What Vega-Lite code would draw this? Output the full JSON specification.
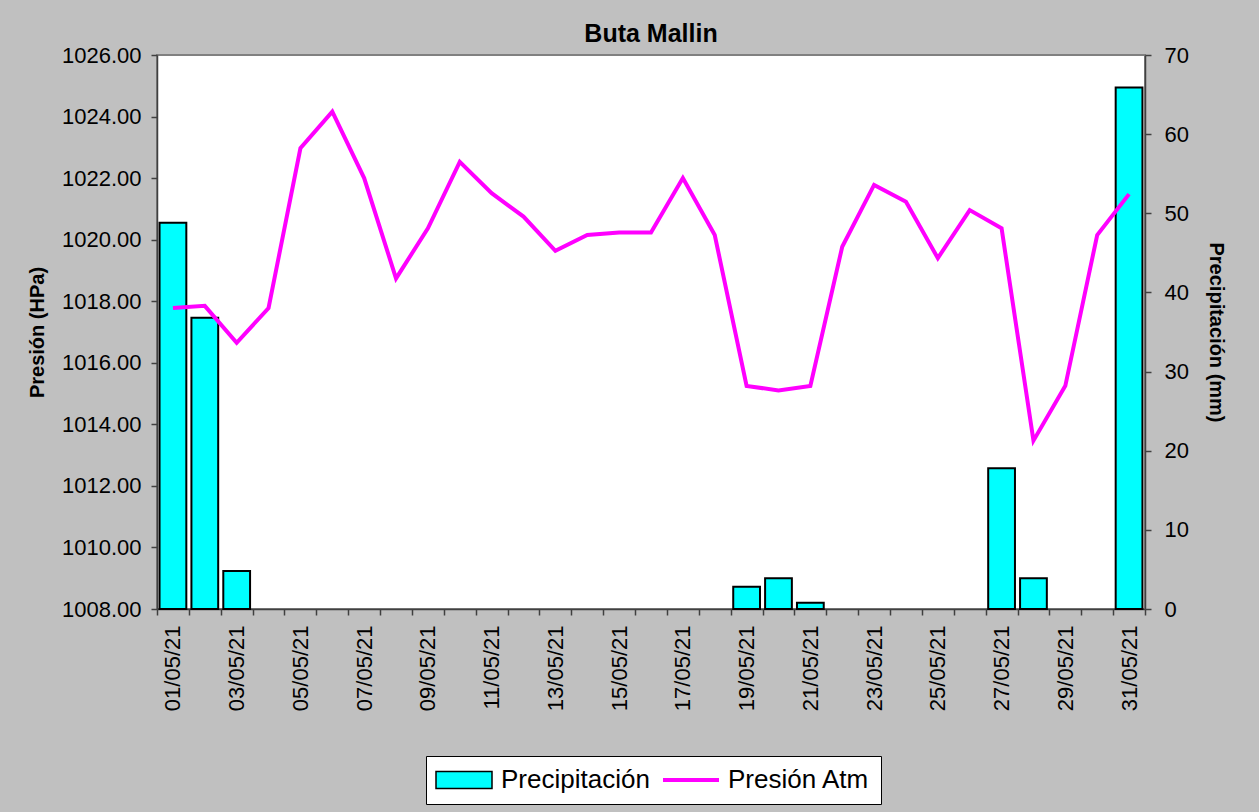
{
  "$schema": "https://vega.github.io/schema/vega-lite/v6.json",
  "width": 988,
  "height": 554,
  "autosize": {"type": "none"},
  "padding": {"left": 157, "top": 55, "right": 114, "bottom": 203},
  "background": "#C0C0C0",
  "title": {"text": "Buta Mallin", "font": "Liberation Sans", "fontSize": 25, "fontWeight": "bold", "color": "#000000", "anchor": "middle", "offset": -3},
  "data": {
    "values": [
      {"fecha": "01/05/21", "presion": 1017.78, "precip": 48.8},
      {"fecha": "02/05/21", "presion": 1017.85, "precip": 36.8},
      {"fecha": "03/05/21", "presion": 1016.65, "precip": 4.8},
      {"fecha": "04/05/21", "presion": 1017.78, "precip": 0},
      {"fecha": "05/05/21", "presion": 1022.97, "precip": 0},
      {"fecha": "06/05/21", "presion": 1024.16, "precip": 0},
      {"fecha": "07/05/21", "presion": 1022.0, "precip": 0},
      {"fecha": "08/05/21", "presion": 1018.74, "precip": 0},
      {"fecha": "09/05/21", "presion": 1020.37, "precip": 0},
      {"fecha": "10/05/21", "presion": 1022.53, "precip": 0},
      {"fecha": "11/05/21", "presion": 1021.51, "precip": 0},
      {"fecha": "12/05/21", "presion": 1020.75, "precip": 0},
      {"fecha": "13/05/21", "presion": 1019.64, "precip": 0},
      {"fecha": "14/05/21", "presion": 1020.15, "precip": 0},
      {"fecha": "15/05/21", "presion": 1020.23, "precip": 0},
      {"fecha": "16/05/21", "presion": 1020.23, "precip": 0},
      {"fecha": "17/05/21", "presion": 1022.0, "precip": 0},
      {"fecha": "18/05/21", "presion": 1020.15, "precip": 0},
      {"fecha": "19/05/21", "presion": 1015.25, "precip": 2.8},
      {"fecha": "20/05/21", "presion": 1015.1, "precip": 3.9},
      {"fecha": "21/05/21", "presion": 1015.25, "precip": 0.8},
      {"fecha": "22/05/21", "presion": 1019.77, "precip": 0},
      {"fecha": "23/05/21", "presion": 1021.78, "precip": 0},
      {"fecha": "24/05/21", "presion": 1021.23, "precip": 0},
      {"fecha": "25/05/21", "presion": 1019.4, "precip": 0},
      {"fecha": "26/05/21", "presion": 1020.96, "precip": 0},
      {"fecha": "27/05/21", "presion": 1020.37, "precip": 17.8},
      {"fecha": "28/05/21", "presion": 1013.47, "precip": 3.9},
      {"fecha": "29/05/21", "presion": 1015.25, "precip": 0},
      {"fecha": "30/05/21", "presion": 1020.15, "precip": 0},
      {"fecha": "31/05/21", "presion": 1021.48, "precip": 65.9}
    ]
  },
  "encoding": {
    "x": {
      "field": "fecha",
      "type": "ordinal",
      "sort": "ascending",
      "scale": {"paddingInner": 0, "paddingOuter": 0},
      "axis": {
        "title": null,
        "labelAngle": -90,
        "labelFontSize": 22,
        "labelPadding": 10,
        "tickBand": "extent",
        "tickSize": 6,
        "labelExpr": "toNumber(substring(datum.value, 0, 2)) % 2 == 1 ? datum.value : ''"
      }
    }
  },
  "layer": [
    {
      "transform": [{"filter": "datum.precip > 0"}],
      "mark": {"type": "bar", "stroke": "#000000", "strokeWidth": 2, "width": {"band": 0.84}},
      "encoding": {
        "y": {
          "field": "precip",
          "type": "quantitative",
          "scale": {"domain": [0, 70]},
          "axis": {"orient": "right", "title": "Precipitación (mm)", "values": [0, 10, 20, 30, 40, 50, 60, 70], "labelFontSize": 22, "labelPadding": 13, "tickSize": 6, "titlePadding": 17}
        },
        "color": {
          "datum": "Precipitación",
          "type": "nominal",
          "scale": {"domain": ["Precipitación", "Presión Atm"], "range": ["#00FFFF", "#FF00FF"]},
          "legend": {
            "title": null,
            "orient": "none",
            "legendX": 269,
            "legendY": 701,
            "direction": "horizontal",
            "columns": 2,
            "fillColor": "#FFFFFF",
            "strokeColor": "#000000",
            "padding": 11,
            "labelFont": "Liberation Sans",
            "labelFontSize": 26,
            "labelColor": "#000000",
            "labelOffset": 38,
            "columnPadding": 5,
            "symbolSize": 784,
            "symbolOpacity": 1,
            "symbolType": {"expr": "datum.value == 'Precipitación' ? 'M-1,-0.6H3V0.6H-1Z' : 'M-1,0H3'"},
            "symbolStrokeColor": {"expr": "datum.value == 'Precipitación' ? '#000000' : '#FF00FF'"},
            "symbolStrokeWidth": {"expr": "datum.value == 'Precipitación' ? 1.5 : 4"}
          }
        }
      }
    },
    {
      "mark": {"type": "line", "strokeWidth": 4, "stroke": "#FF00FF"},
      "encoding": {
        "y": {
          "field": "presion",
          "type": "quantitative",
          "scale": {"domain": [1008, 1026], "zero": false},
          "axis": {"orient": "left", "title": "Presión (HPa)", "values": [1008, 1010, 1012, 1014, 1016, 1018, 1020, 1022, 1024, 1026], "format": ".2f", "labelFontSize": 22, "labelPadding": 10, "tickSize": 6, "titlePadding": 14}
        }
      }
    }
  ],
  "resolve": {"scale": {"y": "independent"}},
  "config": {
    "view": {"fill": "#FFFFFF", "stroke": "#808080", "strokeWidth": 2},
    "axis": {
      "labelFont": "Liberation Sans",
      "titleFont": "Liberation Sans",
      "labelColor": "#000000",
      "titleColor": "#000000",
      "titleFontSize": 20,
      "titleFontWeight": "bold",
      "grid": false,
      "domainColor": "#404040",
      "tickColor": "#404040",
      "domainWidth": 1.5,
      "tickWidth": 1.5
    }
  }
}
